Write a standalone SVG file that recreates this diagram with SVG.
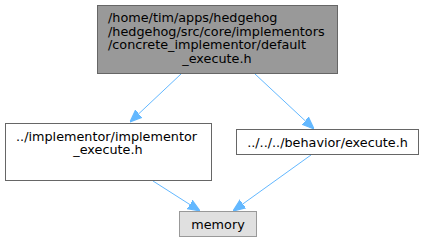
<svg xmlns="http://www.w3.org/2000/svg" width="424" height="241" viewBox="0 0 424 241">
  <defs>
    <style>
      .box { fill: #ffffff; stroke: #666666; stroke-width: 1; }
      .box.root { fill: #999999; }
      .box.ext { fill: #e0e0e0; stroke: #999999; }
      .lbl { font-family: "DejaVu Sans", "Liberation Sans", sans-serif; font-size: 12.8px; fill: #000000; }
      .edge { fill: none; stroke: #63b8ff; stroke-width: 1; }
      .head { fill: #63b8ff; stroke: #63b8ff; stroke-width: 1; }
    </style>
    <marker id="arrow" markerWidth="12" markerHeight="12" refX="10" refY="5" orient="auto" markerUnits="userSpaceOnUse" viewBox="0 0 10 10">
      <path d="M0,1 L10,5 L0,9 Z" class="head"/>
    </marker>
  </defs>
  <rect width="424" height="241" fill="#ffffff"/>

  <g id="connectors">
    <path class="edge" marker-end="url(#arrow)" d="M181,74 L130,122"/>
    <path class="edge" marker-end="url(#arrow)" d="M255,74 L314,129"/>
    <path class="edge" marker-end="url(#arrow)" d="M153,181 L200,211"/>
    <path class="edge" marker-end="url(#arrow)" d="M311,155 L233,211"/>
  </g>

  <g id="node1">
    <rect class="box root" x="97.5" y="5.5" width="240" height="68"/>
    <text class="lbl" x="108" y="22">/home/tim/apps/hedgehog</text>
    <text class="lbl" x="108" y="35.5">/hedgehog/src/core/implementors</text>
    <text class="lbl" x="108" y="49">/concrete_implementor/default</text>
    <text class="lbl" x="217" y="62.5" text-anchor="middle">_execute.h</text>
  </g>

  <g id="node2">
    <rect class="box" x="5.5" y="123.5" width="206" height="57"/>
    <text class="lbl" x="16" y="140.5">../implementor/implementor</text>
    <text class="lbl" x="108" y="154" text-anchor="middle">_execute.h</text>
  </g>

  <g id="node3">
    <rect class="box" x="236.5" y="129.5" width="182" height="25"/>
    <text class="lbl" x="327.5" y="146.5" text-anchor="middle">../../../behavior/execute.h</text>
  </g>

  <g id="node4">
    <rect class="box ext" x="179.5" y="211.5" width="77" height="25"/>
    <text class="lbl" x="218" y="228.5" text-anchor="middle">memory</text>
  </g>
</svg>
